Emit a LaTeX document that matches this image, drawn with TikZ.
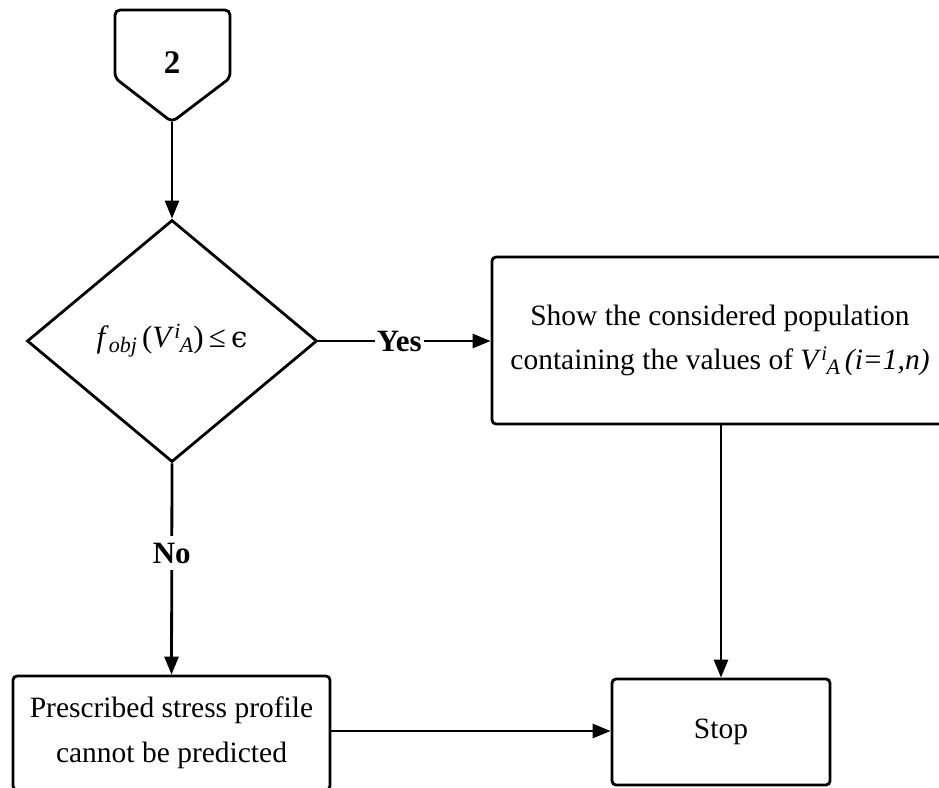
\documentclass[tikz,border=0pt]{standalone}
\usepackage{fontspec}
\setmainfont{Liberation Serif}
\newfontfamily\greekserif{DejaVu Serif}
\usetikzlibrary{shapes.geometric,arrows.meta}

\begin{document}
\begin{tikzpicture}[x=1pt,y=-1pt,
  line width=2.8pt,
  flow/.style={-{Triangle[length=18pt,width=14pt]}},
  boxnode/.style={draw,rounded corners=4pt,inner sep=0pt},
  lbl/.style={fill=white,inner xsep=2pt,inner ysep=7pt,font=\fontsize{31}{34}\selectfont\bfseries},
]
\useasboundingbox (0,0) rectangle (939,787);

% off-page connector
\draw[rounded corners=5pt] (115,10) -- (230,10) -- (230,78) -- (172,122) -- (115,78) -- cycle;
\node[font=\fontsize{33}{36}\selectfont\bfseries] (conn) at (172,63) {2};
\coordinate (conntip) at (172,122);

% decision
\node[draw,diamond,minimum width=290pt,minimum height=242pt,inner sep=0pt,
      font=\fontsize{31}{34}\selectfont] (dec) at (172,341)
  {\textit{f}\raisebox{-0.35ex}{\fontsize{22}{24}\selectfont\textit{obj}}\,(\textit{V}\textsuperscript{\textit{i}}\kern-1pt\raisebox{-0.3ex}{\fontsize{22}{24}\selectfont\textit{A}})\,≤\,{\greekserif\fontsize{29}{30}\selectfont ϵ}};

% result box
\node[boxnode,minimum width=456pt,minimum height=167pt,align=center,
      font=\fontsize{29.5}{44}\selectfont] (show) at (720,340.5)
  {Show the considered population\\
   containing the values of \textit{V}\textsuperscript{\textit{i}}\kern-1pt\raisebox{-0.35ex}{\fontsize{22}{24}\selectfont\textit{A}}\,\textit{(i=1,n)}};

% failure box
\node[boxnode,minimum width=317pt,minimum height=114pt,align=center,
      font=\fontsize{29.5}{45}\selectfont] (pres) at (171.5,733)
  {Prescribed stress profile\\cannot be predicted};

% stop box
\node[boxnode,minimum width=218pt,minimum height=106pt,
      font=\fontsize{29.5}{34}\selectfont] (stop) at (721,732) {Stop};

% connectors
\draw[flow] (conntip) -- (dec.north);
\draw[flow] (dec.east) -- node[lbl,pos=0.47] {Yes} (show.west |- dec.east);
\draw[flow] (dec.south) -- node[lbl,pos=0.425] {No} (pres.north);
\draw[flow] (show.south -| stop.north) -- (stop.north);
\draw[flow] (pres.east |- 0,731) -- (stop.west |- 0,731);
\end{tikzpicture}
\end{document}
